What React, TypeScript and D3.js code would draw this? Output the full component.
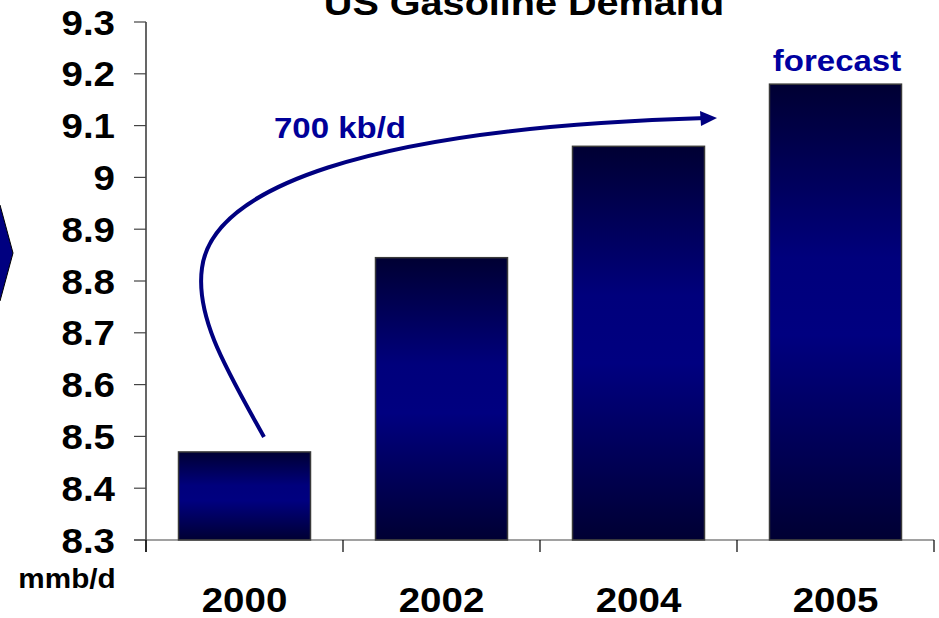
import React from "react";
import * as d3 from "d3";

const categories = ["2000", "2002", "2004", "2005"];
const demand = [8.47, 8.845, 9.06, 9.18];
const yTicks = [8.3, 8.4, 8.5, 8.6, 8.7, 8.8, 8.9, 9.0, 9.1, 9.2, 9.3];
const yTickLabels = ["8.3", "8.4", "8.5", "8.6", "8.7", "8.8", "8.9", "9", "9.1", "9.2", "9.3"];
const title = "US Gasoline Demand";
const unitLabel = "mmb/d";
const growthLabel = "700 kb/d";
const forecastLabel = "forecast";

const W = 939;
const H = 618;
const FONT = "'Liberation Sans', Arial, Helvetica, sans-serif";
const SX = 1.1;

function T({ x, y, size, anchor = "middle", fill = "#000", children }: any) {
  return (
    <g transform={`translate(${x},${y}) scale(${SX},1)`}>
      <text x={0} y={0} fontSize={size} fontWeight="bold" fontFamily={FONT} textAnchor={anchor} fill={fill}>
        {children}
      </text>
    </g>
  );
}

export default function App() {
  const x = d3.scaleBand<string>().domain(categories).range([146, 934]).paddingInner(0.33).paddingOuter(0.165);
  const y = d3.scaleLinear().domain([8.3, 9.3]).range([540, 22]);
  const step = x.step();
  const base = y(8.3);

  const arrowPath = "M264,437 C228,372 195,318 202,268 C212,190 360,128 706,118";

  return (
    <div style={{ position: "absolute", left: 0, top: 0 }}>
      <svg width={W} height={H} style={{ display: "block", background: "#fff" }}>
        <defs>
          <linearGradient id="barGrad" x1="0" y1="0" x2="0" y2="1">
            <stop offset="0%" stopColor="#000033" />
            <stop offset="38%" stopColor="#00007c" />
            <stop offset="55%" stopColor="#000080" />
            <stop offset="100%" stopColor="#000033" />
          </linearGradient>
        </defs>

        {/* left chevron */}
        <polygon points="-4,205 0,205 13,253 0,301 -4,301" fill="#000080" stroke="#000" strokeWidth={1} />

        {/* title */}
        <T x={524} y={15} size={36}>{title}</T>

        {/* bars */}
        {categories.map((c, i) => (
          <rect
            key={c}
            x={x(c)!}
            y={y(demand[i])}
            width={x.bandwidth()}
            height={base - y(demand[i])}
            fill="url(#barGrad)"
            stroke="#3a3a3a"
            strokeWidth={1.5}
          />
        ))}

        {/* y axis */}
        <line x1={146} x2={146} y1={y(9.3)} y2={552} stroke="#000" strokeWidth={1.2} />
        {yTicks.map((t, i) => (
          <g key={t}>
            <line x1={134} x2={146} y1={y(t)} y2={y(t)} stroke="#444" strokeWidth={1.2} />
            <T x={115} y={y(t) + 12.5} size={35} anchor="end">{yTickLabels[i]}</T>
          </g>
        ))}

        {/* x axis */}
        <line x1={134} x2={934} y1={base} y2={base} stroke="#444" strokeWidth={1.2} />
        {d3.range(categories.length + 1).map((k) => (
          <line key={k} x1={146 + k * step} x2={146 + k * step} y1={base} y2={552} stroke="#000" strokeWidth={1.2} />
        ))}
        {categories.map((c) => (
          <T key={c} x={x(c)! + x.bandwidth() / 2} y={612} size={35}>{c}</T>
        ))}
        <T x={67} y={588} size={27}>{unitLabel}</T>

        {/* annotations */}
        <path d={arrowPath} fill="none" stroke="#000080" strokeWidth={4} />
        <polygon points="717,118 700,111 701,126" fill="#000080" />
        <T x={340} y={138} size={30} fill="#000099">{growthLabel}</T>
        <T x={837} y={71} size={30} fill="#0000A0">{forecastLabel}</T>
      </svg>
    </div>
  );
}
